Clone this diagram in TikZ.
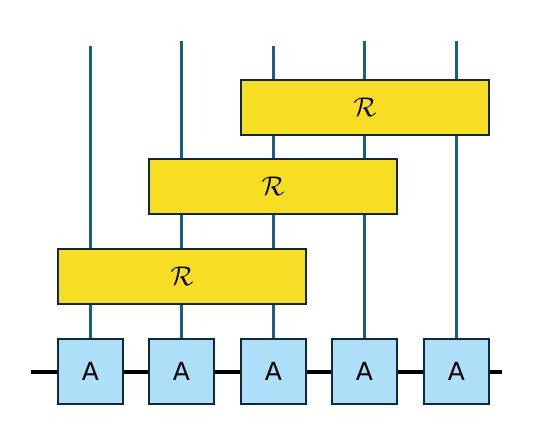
\documentclass[tikz,border=0pt]{standalone}
\usepackage{fix-cm}
\usepackage{fontspec}
\setsansfont{DejaVu Sans}
\begin{document}
\begin{tikzpicture}[x=1pt,y=-1pt,
  wire/.style={draw=wirecol,line width=2.2pt},
  chain/.style={draw=black,line width=3.2pt},
  abox/.style={draw=boxline,fill=ablue,line width=2.2pt,minimum width=65pt,minimum height=65pt,inner sep=0pt,font=\sffamily\fontsize{25}{25}\selectfont},
  rbox/.style={draw=boxline,fill=ryellow,line width=2.2pt,minimum width=248pt,minimum height=55pt,inner sep=0pt,font=\fontsize{27}{27}\selectfont}]
\definecolor{wirecol}{HTML}{1B5E80}
\definecolor{boxline}{HTML}{0E2A38}
\definecolor{ablue}{HTML}{ADDFF8}
\definecolor{ryellow}{HTML}{F7DD24}
\useasboundingbox (0,0) rectangle (556,440);
% tops of wires
\coordinate (t1) at (90.5,46);
\coordinate (t2) at (181.5,41);
\coordinate (t3) at (273.5,46);
\coordinate (t4) at (364.5,41);
\coordinate (t5) at (456.5,41);
\coordinate (cl) at (31,372);
\coordinate (cr) at (502,372);
% A node positions
\path (90.5,371.5) coordinate (p1) (181.5,371.5) coordinate (p2) (273.5,371.5) coordinate (p3) (364.5,371.5) coordinate (p4) (456.5,371.5) coordinate (p5);
% wires behind
\foreach \i in {1,...,5} \draw[wire] (t\i) -- (p\i);
\draw[chain] (cl) -- (cr);
\foreach \i in {1,...,5} \node[abox] (a\i) at (p\i) {A};
\node[rbox] (r1) at (182,276.5) {$\mathcal{R}$};
\node[rbox] (r2) at (273,186.5) {$\mathcal{R}$};
\node[rbox] (r3) at (365,107.5) {$\mathcal{R}$};
\end{tikzpicture}
\end{document}
